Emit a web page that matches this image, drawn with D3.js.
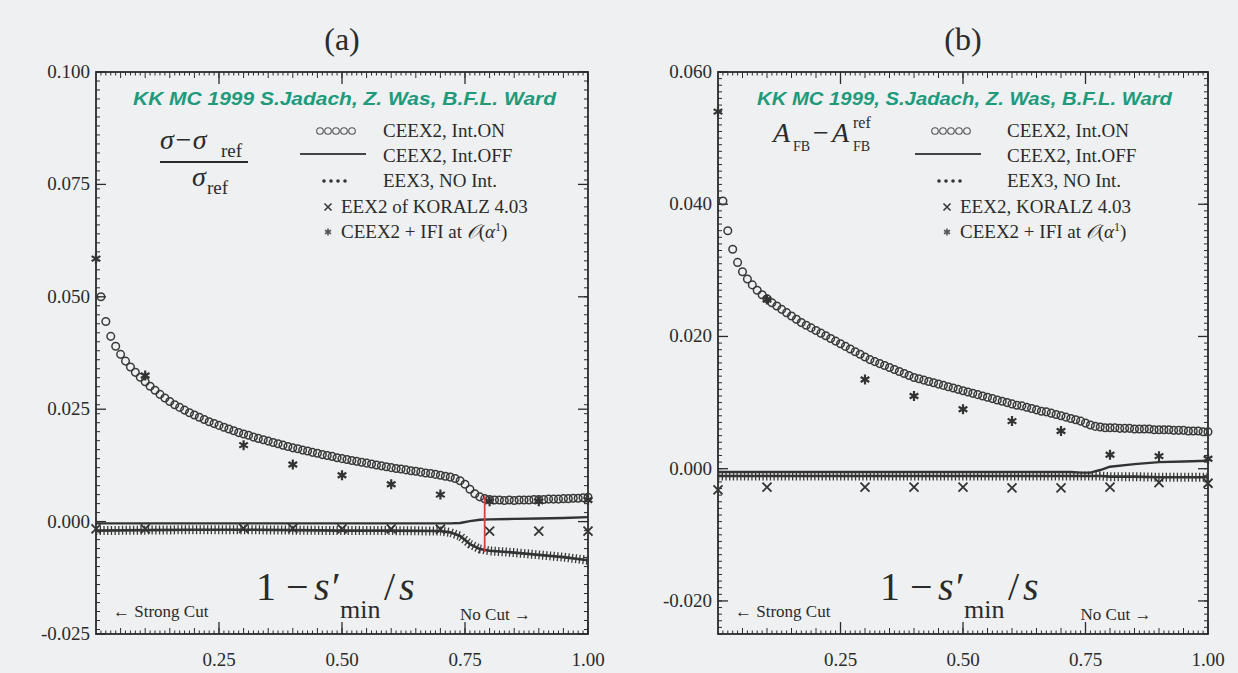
<!DOCTYPE html>
<html>
<head>
<meta charset="utf-8">
<script src="https://cdn.jsdelivr.net/npm/d3@7"></script>
<style>
  body { margin: 0; background: #eef0f1; }
  svg { display: block; }
</style>
</head>
<body>
<div id="chart"></div>
<script>
// ---- data ----
var vGrid = d3.range(1, 101).map(function(i) { return i / 100; });

// CEEX2, Int.ON  (open circles), panel (a)
var onA = [0.0500,0.0445,0.0412,0.0390,0.0372,0.0357,0.0344,0.0332,0.0321,0.0311,
           0.0301,0.0292,0.0283,0.0275,0.0267,0.0260,0.0254,0.0248,0.0242,0.0237,
           0.0232,0.0227,0.0222,0.0218,0.0214,0.0210,0.0206,0.0202,0.0198,0.0195,
           0.0192,0.0188,0.0185,0.0182,0.0179,0.0176,0.0173,0.0170,0.0167,0.0164,
           0.0162,0.0159,0.0157,0.0154,0.0152,0.0149,0.0147,0.0145,0.0142,0.0140,
           0.0138,0.0136,0.0134,0.0132,0.0130,0.0128,0.0126,0.0124,0.0122,0.0120,
           0.0118,0.0117,0.0115,0.0113,0.0112,0.0110,0.0108,0.0107,0.0105,0.0103,
           0.0101,0.0099,0.0096,0.0091,0.0083,0.0072,0.0062,0.0055,0.0051,0.0049,
           0.0048,0.0048,0.0047,0.0048,0.0047,0.0048,0.0048,0.0048,0.0049,0.0049,
           0.0049,0.0050,0.0050,0.0050,0.0051,0.0051,0.0052,0.0052,0.0053,0.0054];
// CEEX2, Int.ON  (open circles), panel (b)
var onB = [0.0405,0.0360,0.0332,0.0312,0.0298,0.0287,0.0278,0.0270,0.0263,0.0257,
           0.0251,0.0246,0.0241,0.0236,0.0231,0.0226,0.0221,0.0217,0.0213,0.0209,
           0.0205,0.0201,0.0197,0.0193,0.0189,0.0185,0.0181,0.0177,0.0173,0.0169,
           0.0165,0.0162,0.0159,0.0156,0.0153,0.0150,0.0147,0.0144,0.0141,0.0138,
           0.0136,0.0134,0.0132,0.0130,0.0128,0.0126,0.0124,0.0122,0.0120,0.0118,
           0.0116,0.0114,0.0112,0.0110,0.0108,0.0106,0.0104,0.0102,0.0100,0.0098,
           0.0096,0.0095,0.0093,0.0091,0.0089,0.0087,0.0086,0.0084,0.0082,0.0080,
           0.0078,0.0076,0.0074,0.0072,0.0069,0.0066,0.0064,0.0063,0.0062,0.0062,
           0.0062,0.0061,0.0061,0.0061,0.0060,0.0060,0.0060,0.0060,0.0059,0.0059,
           0.0059,0.0059,0.0058,0.0058,0.0058,0.0057,0.0057,0.0057,0.0056,0.0056];

// CEEX2 Int.OFF (solid) and EEX3 (dotted), sampled at lineX
var lineX = [0, 0.1, 0.2, 0.3, 0.4, 0.5, 0.6, 0.7, 0.72, 0.74, 0.76, 0.78, 0.8, 0.85, 0.9, 0.95, 1.0];
var offA  = [-0.0004,-0.0004,-0.0004,-0.0004,-0.0004,-0.0004,-0.0004,-0.0004,-0.0004,-0.0003,0.0001,0.0004,0.0005,0.0006,0.0007,0.0008,0.0010];
var eex3A = [-0.0020,-0.0019,-0.0018,-0.0018,-0.0019,-0.0020,-0.0020,-0.0021,-0.0024,-0.0032,-0.0050,-0.0061,-0.0065,-0.0069,-0.0074,-0.0079,-0.0086];
var offB  = [-0.0005,-0.0005,-0.0005,-0.0005,-0.0005,-0.0005,-0.0005,-0.0005,-0.0005,-0.0006,-0.0006,-0.0002,0.0003,0.0007,0.0010,0.0011,0.0012];
var eex3B = [-0.0011,-0.0011,-0.0011,-0.0011,-0.0011,-0.0011,-0.0011,-0.0011,-0.0011,-0.0011,-0.0011,-0.0011,-0.0012,-0.0012,-0.0013,-0.0013,-0.0013];

// KORALZ crosses and CEEX2+IFI stars
var ptX     = [0, 0.1, 0.3, 0.4, 0.5, 0.6, 0.7, 0.8, 0.9, 1.0];
var koralzA = [-0.0016,-0.0016,-0.0015,-0.0015,-0.0016,-0.0016,-0.0017,-0.0021,-0.0021,-0.0021];
var ifiA    = [0.0585, 0.0325, 0.0170, 0.0127, 0.0103, 0.0083, 0.0060, 0.0045, 0.0045, 0.0048];
var koralzB = [-0.0032,-0.0028,-0.0028,-0.0028,-0.0028,-0.0029,-0.0029,-0.0028,-0.0021,-0.0022];
var ifiB    = [0.0540, 0.0256, 0.0135, 0.0110, 0.0090, 0.0072, 0.0057, 0.0021, 0.0019, 0.0015];

var cutMarkA = {x: 0.79, y0: 0.0058, y1: -0.0068};

var xTicks  = [0.25, 0.50, 0.75, 1.00];
var yTicksA = [-0.025, 0.000, 0.025, 0.050, 0.075, 0.100];
var yTicksB = [-0.020, 0.000, 0.020, 0.040, 0.060];

// ---- drawing ----
var W = 1238, H = 673;
var ink = "#2b2b2b";
var green = "#1f9a7b";
var serif = "Liberation Serif, DejaVu Serif, serif";

var svg = d3.select("#chart").append("svg")
    .attr("width", W).attr("height", H)
    .style("background", "#eef0f1");

function crossPath(s) {
    return "M" + (-s) + "," + (-s) + "L" + s + "," + s + "M" + (-s) + "," + s + "L" + s + "," + (-s);
}
function starPath(s) {
    var p = "";
    for (var k = 0; k < 3; k++) {
        var a = Math.PI / 2 + k * Math.PI / 3;
        p += "M" + (-s * Math.cos(a)) + "," + (-s * Math.sin(a)) + "L" + (s * Math.cos(a)) + "," + (s * Math.sin(a));
    }
    return p;
}
function txt(g, x, y, size, s, italic) {
    return g.append("text").attr("x", x).attr("y", y)
        .attr("font-family", serif).attr("font-size", size).attr("fill", ink)
        .attr("font-style", italic ? "italic" : "normal").text(s);
}

function drawPanel(cfg) {
    var x = d3.scaleLinear().domain([0, 1]).range([cfg.left, cfg.right]);
    var y = d3.scaleLinear().domain(cfg.yDomain).range([634, 72]);
    var g = svg.append("g");

    // minor ticks
    var xMinor = d3.range(1, 100).map(function(i) { return i / 100; });
    var yMinor = d3.range(Math.ceil(cfg.yDomain[0] / cfg.yMinorStep), Math.floor(cfg.yDomain[1] / cfg.yMinorStep) + 1)
        .map(function(i) { return i * cfg.yMinorStep; });

    [y.range()[0], y.range()[1]].forEach(function(edge, side) {
        var dir = side == 0 ? -1 : 1;
        g.selectAll(".xm" + side).data(xMinor).enter().append("line")
            .attr("x1", function(d) { return x(d); }).attr("x2", function(d) { return x(d); })
            .attr("y1", edge).attr("y2", function(d) { return edge + dir * (Math.round(d * 100) % 5 == 0 ? 6 : 3.5); })
            .attr("stroke", ink).attr("stroke-width", 1);
        g.selectAll(".xM" + side).data(xTicks).enter().append("line")
            .attr("x1", function(d) { return x(d); }).attr("x2", function(d) { return x(d); })
            .attr("y1", edge).attr("y2", edge + dir * 12)
            .attr("stroke", ink).attr("stroke-width", 1.3);
    });
    [cfg.left, cfg.right].forEach(function(edge, side) {
        var dir = side == 0 ? 1 : -1;
        g.selectAll(".ym" + side).data(yMinor).enter().append("line")
            .attr("x1", edge).attr("x2", edge + dir * 4)
            .attr("y1", function(d) { return y(d); }).attr("y2", function(d) { return y(d); })
            .attr("stroke", ink).attr("stroke-width", 1);
        g.selectAll(".yM" + side).data(cfg.yTicks).enter().append("line")
            .attr("x1", edge).attr("x2", edge + dir * 10)
            .attr("y1", function(d) { return y(d); }).attr("y2", function(d) { return y(d); })
            .attr("stroke", ink).attr("stroke-width", 1.3);
    });

    // tick labels
    var fmt = d3.format(".3f");
    g.selectAll(".yl").data(cfg.yTicks).enter().append("text")
        .attr("x", cfg.left - 6).attr("y", function(d) { return y(d) + 6; })
        .attr("text-anchor", "end").attr("font-family", serif).attr("font-size", 19)
        .attr("fill", ink).text(function(d) { return fmt(d).replace("\u2212", "-"); });
    g.selectAll(".xl").data(xTicks).enter().append("text")
        .attr("x", function(d) { return x(d); }).attr("y", 666)
        .attr("text-anchor", "middle").attr("font-family", serif).attr("font-size", 19)
        .attr("fill", ink).text(function(d) { return d.toFixed(2); });

    // frame
    g.append("rect").attr("x", cfg.left).attr("y", 72)
        .attr("width", cfg.right - cfg.left).attr("height", 634 - 72)
        .attr("fill", "none").attr("stroke", ink).attr("stroke-width", 1.8);

    // title
    g.append("text").attr("x", (cfg.left + cfg.right) / 2).attr("y", 50)
        .attr("text-anchor", "middle").attr("font-family", serif).attr("font-size", 32)
        .attr("fill", ink).text(cfg.title);

    // data
    var line = d3.line().x(function(d) { return x(d[0]); }).y(function(d) { return y(d[1]); });
    var eexPts = d3.zip(lineX, cfg.eex3);
    var offPts = d3.zip(lineX, cfg.off);
    g.append("path").attr("d", line(eexPts)).attr("fill", "none")
        .attr("stroke", "#3a3a3a").attr("stroke-width", 9).attr("stroke-dasharray", "1.3,2.4");
    g.append("path").attr("d", line(eexPts)).attr("fill", "none")
        .attr("stroke", "#333").attr("stroke-width", 2.6);
    g.append("path").attr("d", line(offPts)).attr("fill", "none")
        .attr("stroke", "#333").attr("stroke-width", 2.4);

    g.selectAll(".on").data(d3.zip(vGrid, cfg.on)).enter().append("circle")
        .attr("cx", function(d) { return x(d[0]); }).attr("cy", function(d) { return y(d[1]); })
        .attr("r", 3.8).attr("fill", "none").attr("stroke", "#3a3a3a").attr("stroke-width", 1.5);

    g.selectAll(".kz").data(d3.zip(ptX, cfg.koralz)).enter().append("path")
        .attr("transform", function(d) { return "translate(" + x(d[0]) + "," + y(d[1]) + ")"; })
        .attr("d", crossPath(4.5)).attr("stroke", "#333").attr("stroke-width", 1.8).attr("fill", "none");
    g.selectAll(".ifi").data(d3.zip(ptX, cfg.ifi)).enter().append("path")
        .attr("transform", function(d) { return "translate(" + x(d[0]) + "," + y(d[1]) + ")"; })
        .attr("d", starPath(5)).attr("stroke", "#333").attr("stroke-width", 2.2).attr("fill", "none");

    if (cfg.cut) {
        g.append("line").attr("x1", x(cfg.cut.x)).attr("x2", x(cfg.cut.x))
            .attr("y1", y(cfg.cut.y0)).attr("y2", y(cfg.cut.y1))
            .attr("stroke", "#d0443c").attr("stroke-width", 1.8);
    }

    // header
    g.append("text").attr("x", cfg.head[0]).attr("y", 105)
        .attr("font-family", "Liberation Sans, Arial, sans-serif").attr("font-weight", "bold")
        .attr("font-style", "italic").attr("font-size", 18).attr("fill", green)
        .attr("textLength", cfg.head[1]).attr("lengthAdjust", "spacingAndGlyphs")
        .text(cfg.headText);

    // legend
    var lx = cfg.legend;
    var rows = [131, 156, 181, 207, 232];
    var lg = g.append("g");
    lg.selectAll(".lc").data([0, 1, 2, 3, 4]).enter().append("circle")
        .attr("cx", function(d) { return lx.sym + d * 8; }).attr("cy", rows[0])
        .attr("r", 3.3).attr("fill", "none").attr("stroke", "#555").attr("stroke-width", 1.1);
    lg.append("line").attr("x1", lx.sym - 20).attr("x2", lx.sym + 46)
        .attr("y1", rows[1] - 2).attr("y2", rows[1] - 2).attr("stroke", "#444").attr("stroke-width", 1.8);
    lg.selectAll(".ld").data([0, 1, 2, 3]).enter().append("circle")
        .attr("cx", function(d) { return lx.sym + 4 + d * 7; }).attr("cy", rows[2])
        .attr("r", 1.8).attr("fill", "#333");
    lg.append("path").attr("transform", "translate(" + lx.mk + "," + rows[3] + ")")
        .attr("d", crossPath(3.5)).attr("stroke", "#333").attr("stroke-width", 1.5);
    lg.append("path").attr("transform", "translate(" + lx.mk + "," + rows[4] + ")")
        .attr("d", starPath(3.5)).attr("stroke", "#555").attr("stroke-width", 1.6);
    cfg.legendText.forEach(function(t, i) {
        var tx = txt(lg, i < 3 ? lx.text : lx.mk + 13, rows[i] + 6, 19, "");
        if (i == 4) {
            tx.text("CEEX2 + IFI at ");
            tx.append("tspan").attr("font-style", "italic").text("\u{1D4AA}");
            tx.append("tspan").text("(");
            tx.append("tspan").attr("font-style", "italic").text("\u03B1");
            tx.append("tspan").attr("font-size", 12).attr("dy", -7).text("1");
            tx.append("tspan").attr("dy", 7).text(")");
        } else {
            tx.text(t);
        }
    });

    // x-axis label, pieces placed one by one
    var bx = cfg.xlab;
    txt(g, bx, 600, 40, "1 \u2212");
    txt(g, bx + 58, 600, 40, "s\u2032", true);
    txt(g, bx + 84, 618, 26, "min");
    txt(g, bx + 128, 600, 40, "/");
    txt(g, bx + 143, 600, 40, "s", true);

    txt(g, cfg.left + 17, 617, 17, "\u2190 Strong Cut");
    txt(g, x(0.74), 620, 17, "No Cut \u2192");

    cfg.ylab(g);
}

drawPanel({
    title: "(a)", left: 96, right: 588, yDomain: [-0.025, 0.100], yMinorStep: 0.002,
    yTicks: yTicksA, on: onA, off: offA, eex3: eex3A, koralz: koralzA, ifi: ifiA, cut: cutMarkA,
    head: [133, 423], headText: "KK MC 1999 S.Jadach, Z. Was, B.F.L. Ward",
    legend: {sym: 320, text: 383, mk: 328},
    legendText: ["CEEX2, Int.ON", "CEEX2, Int.OFF", "EEX3, NO Int.", "EEX2 of KORALZ 4.03", ""],
    xlab: 256,
    ylab: function(g) {
        txt(g, 160, 149, 28, "\u03C3\u2212\u03C3", true);
        txt(g, 221, 157, 19, "ref");
        g.append("line").attr("x1", 160).attr("x2", 248).attr("y1", 162).attr("y2", 162)
            .attr("stroke", ink).attr("stroke-width", 1.8);
        txt(g, 192, 186, 28, "\u03C3", true);
        txt(g, 207, 194, 19, "ref");
    }
});

drawPanel({
    title: "(b)", left: 718, right: 1208, yDomain: [-0.025, 0.060], yMinorStep: 0.001,
    yTicks: yTicksB, on: onB, off: offB, eex3: eex3B, koralz: koralzB, ifi: ifiB, cut: null,
    head: [757, 415], headText: "KK MC 1999, S.Jadach, Z. Was, B.F.L. Ward",
    legend: {sym: 935, text: 1007, mk: 947},
    legendText: ["CEEX2, Int.ON", "CEEX2, Int.OFF", "EEX3, NO Int.", "EEX2, KORALZ 4.03", ""],
    xlab: 880,
    ylab: function(g) {
        txt(g, 773, 142, 28, "A", true);
        txt(g, 793, 151, 14, "FB");
        txt(g, 813, 142, 28, "\u2212");
        txt(g, 832, 142, 28, "A", true);
        txt(g, 853, 128, 16, "ref");
        txt(g, 853, 151, 14, "FB");
    }
});
</script>
</body>
</html>
